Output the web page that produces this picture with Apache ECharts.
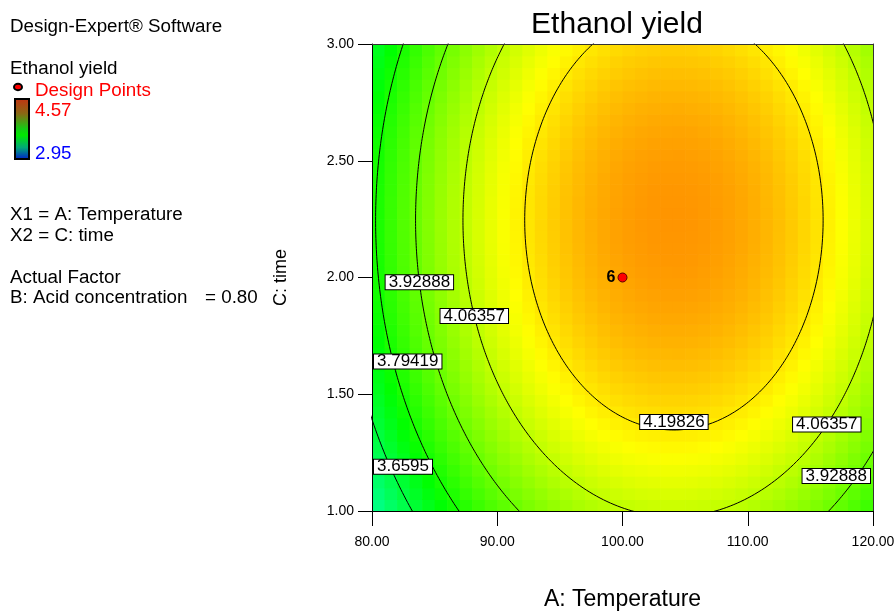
<!DOCTYPE html>
<html>
<head>
<meta charset="utf-8">
<script src="https://cdn.jsdelivr.net/npm/echarts@6/dist/echarts.min.js"></script>
<style>
  html, body { margin: 0; padding: 0; background: #fff; }
  #main { width: 895px; height: 612px; }
</style>
</head>
<body>
<div id="main"></div>
<script>
// Factor ranges (actual units)
const tempRange = [80, 120];        // A: Temperature
const timeRange = [1.0, 3.0];       // C: time
const acidConcentration = 0.80;     // B held constant

// Axis tick values
const tempTicks = [80, 90, 100, 110, 120];
const timeTicks = [1.0, 1.5, 2.0, 2.5, 3.0];

// Fitted quadratic model in coded units (A, C in [-1, 1])
const modelTerms = ['Intercept', 'A', 'C', 'A^2', 'C^2'];
const modelCoefs = [4.307, 0.156, 0.082, -0.380, -0.167];

// Contour levels drawn on the plot
const contourLevels = [3.6595, 3.79419, 3.92888, 4.06357, 4.19826];

// Response colour range (design point min / max)
const responseRange = [2.95, 4.57];

// Design points and replicate counts
const designTemps = [100];
const designTimes = [2.00];
const designReps = [6];

// ---------------------------------------------------------------
const FONT = "'Liberation Sans', Arial, Helvetica, sans-serif";
const GRID = { left: 372, top: 44, right: 22, bottom: 101 };
const PLOT_L = GRID.left, PLOT_R = 895 - GRID.right;
const LABEL_FONT_SIZE = 17;
const LABEL_PAD = [1, 3, 0, 3];

const toCodedA = T => (T - (tempRange[0] + tempRange[1]) / 2) / ((tempRange[1] - tempRange[0]) / 2);
const toCodedC = t => (t - (timeRange[0] + timeRange[1]) / 2) / ((timeRange[1] - timeRange[0]) / 2);
const fromCodedA = a => (tempRange[0] + tempRange[1]) / 2 + a * (tempRange[1] - tempRange[0]) / 2;
const fromCodedC = c => (timeRange[0] + timeRange[1]) / 2 + c * (timeRange[1] - timeRange[0]) / 2;

const [b0, bA, bC, bAA, bCC] = modelCoefs;
function predict(T, t) {
  const a = toCodedA(T), c = toCodedC(t);
  return b0 + bA * a + bC * c + bAA * a * a + bCC * c * c;
}
// Stationary point of the surface
const a0 = -bA / (2 * bAA), c0 = -bC / (2 * bCC);
const Ymax = b0 - bA * bA / (4 * bAA) - bC * bC / (4 * bCC);

// Response grid for the colour fill
const NX = 40, NT = 40;
const dT = (tempRange[1] - tempRange[0]) / NX;
const dt = (timeRange[1] - timeRange[0]) / NT;
const cells = [];
for (let i = 0; i < NX; i++) {
  for (let j = 0; j < NT; j++) {
    const T = tempRange[0] + (i + 0.5) * dT;
    const t = timeRange[0] + (j + 0.5) * dt;
    cells.push([T, t, predict(T, t)]);
  }
}

// Contour curves (level sets of the quadratic are ellipses)
function contourPath(level) {
  const r2 = Ymax - level;
  const rx = Math.sqrt(r2 / -bAA), ry = Math.sqrt(r2 / -bCC);
  const pts = [];
  for (let k = 0; k <= 720; k++) {
    const th = k / 720 * 2 * Math.PI;
    pts.push([fromCodedA(a0 + rx * Math.cos(th)), fromCodedC(c0 + ry * Math.sin(th))]);
  }
  return pts;
}

// Where each contour carries its value label
const labelSpots = [
  { level: 3.92888, side: 'left', time: 1.98 },
  { level: 4.06357, side: 'left', time: 1.835 },
  { level: 3.79419, side: 'left', time: 1.64 },
  { level: 3.6595,  side: 'left', time: 1.19 },
  { level: 4.19826, side: 'bottom' },
  { level: 4.06357, side: 'right', time: 1.37 },
  { level: 3.92888, side: 'right', time: 1.15 }
];
function spotOnContour(s) {
  const r2 = Ymax - s.level;
  if (s.side === 'bottom') {
    return [fromCodedA(a0), fromCodedC(c0 - Math.sqrt(r2 / -bCC))];
  }
  const c = toCodedC(s.time);
  const rem = Math.max(0, r2 + bCC * (c - c0) * (c - c0));
  const da = Math.sqrt(rem / -bAA);
  return [fromCodedA(s.side === 'left' ? a0 - da : a0 + da), s.time];
}
function buildLabelData(offsets) {
  return labelSpots.map((s, i) => ({
    value: spotOnContour(s),
    name: String(s.level),
    label: { offset: offsets[i] }
  }));
}
const baseOffsets = labelSpots.map(s => [0, s.side === 'bottom' ? -8 : 0]);

const series = [];
series.push({
  type: 'custom',
  name: 'response',
  data: cells,
  clip: true,
  silent: true,
  z: 1,
  renderItem: function (params, api) {
    const T = api.value(0), t = api.value(1);
    const p1 = api.coord([T - dT / 2, t + dt / 2]);
    const p2 = api.coord([T + dT / 2, t - dt / 2]);
    return {
      type: 'rect',
      shape: { x: p1[0], y: p1[1], width: p2[0] - p1[0] + 0.7, height: p2[1] - p1[1] + 0.7 },
      style: { fill: api.visual('color') }
    };
  }
});
contourLevels.forEach(level => {
  series.push({
    type: 'line',
    data: contourPath(level),
    showSymbol: false,
    symbol: 'none',
    silent: true,
    clip: true,
    z: 3,
    lineStyle: { color: '#000', width: 1 }
  });
});
series.push({
  id: 'contourLabels',
  type: 'scatter',
  data: buildLabelData(baseOffsets),
  symbolSize: 0,
  silent: true,
  z: 5,
  itemStyle: { opacity: 1 },
  label: {
    show: true,
    position: 'inside',
    formatter: p => p.name,
    fontFamily: FONT,
    fontSize: LABEL_FONT_SIZE,
    color: '#000',
    backgroundColor: '#fff',
    borderColor: '#000',
    borderWidth: 1,
    padding: LABEL_PAD,
    lineHeight: 13
  }
});
series.push({
  type: 'scatter',
  data: designTemps.map((T, i) => ({ value: [T, designTimes[i]], name: String(designReps[i]) })),
  symbol: 'circle',
  symbolSize: 9,
  silent: true,
  z: 6,
  itemStyle: { color: '#ff0000', borderColor: '#5a0000', borderWidth: 1, opacity: 1 },
  label: {
    show: true,
    position: 'left',
    distance: 2,
    formatter: p => p.name,
    fontFamily: FONT,
    fontSize: 16,
    fontWeight: 'bold',
    color: '#000'
  }
});

const axisCommon = {
  axisLine: { show: true, lineStyle: { color: '#000', width: 1 } },
  splitLine: { show: false },
  z: 10
};

const sideTexts = [
  { text: 'Design-Expert® Software', x: 10, y: 27, color: '#000' },
  { text: 'Ethanol yield', x: 10, y: 69, color: '#000' },
  { text: 'Design Points', x: 35, y: 91, color: '#ff0000' },
  { text: responseRange[1].toFixed(2), x: 35, y: 111, color: '#ff0000' },
  { text: responseRange[0].toFixed(2), x: 35, y: 154, color: '#0000ff' },
  { text: 'X1 = A: Temperature', x: 10, y: 215, color: '#000' },
  { text: 'X2 = C: time', x: 10, y: 236, color: '#000' },
  { text: 'Actual Factor', x: 10, y: 278, color: '#000' },
  { text: 'B: Acid concentration', x: 10, y: 298, color: '#000' },
  { text: '= ' + acidConcentration.toFixed(2), x: 205, y: 298, color: '#000' }
];

const graphics = sideTexts.map(s => ({
  type: 'text', x: s.x, y: s.y,
  style: { text: s.text, fill: s.color, font: '18.8px ' + FONT, textAlign: 'left', textVerticalAlign: 'middle' }
}));
graphics.push({
  type: 'text', x: 617, y: 25,
  style: { text: 'Ethanol yield', fill: '#000', font: '30px ' + FONT, textAlign: 'center', textVerticalAlign: 'middle' }
});
graphics.push({
  type: 'ellipse', shape: { cx: 18, cy: 87, rx: 4, ry: 3.2 },
  style: { fill: '#ff0000', stroke: '#000', lineWidth: 2 }
});
graphics.push({
  type: 'rect', shape: { x: 15, y: 99, width: 14, height: 60 },
  style: {
    stroke: '#000', lineWidth: 2,
    fill: new echarts.graphic.LinearGradient(0, 0, 0, 1, [
      { offset: 0, color: '#c43212' },
      { offset: 0.25, color: '#8a6814' },
      { offset: 0.5, color: '#14cc14' },
      { offset: 0.6, color: '#00e800' },
      { offset: 0.8, color: '#00a878' },
      { offset: 1, color: '#0018d0' }
    ])
  }
});

const option = {
  backgroundColor: '#fff',
  animation: false,
  grid: Object.assign({ show: false, containLabel: false, outerBoundsMode: 'none' }, GRID),
  xAxis: [
    Object.assign({}, axisCommon, {
      type: 'value', min: tempTicks[0], max: tempTicks[tempTicks.length - 1], interval: 10,
      axisTick: { show: true, length: 15, lineStyle: { color: '#000' } },
      axisLabel: { formatter: v => v.toFixed(2), fontFamily: FONT, fontSize: 14, color: '#000', margin: 24 },
      name: 'A: Temperature', nameLocation: 'middle', nameGap: 77,
      nameTextStyle: { fontFamily: FONT, fontSize: 23, color: '#000' }
    }),
    {
      type: 'value', position: 'top', min: tempTicks[0], max: tempTicks[tempTicks.length - 1],
      axisLine: { show: true, lineStyle: { color: '#333', width: 1 } },
      axisTick: { show: false }, axisLabel: { show: false }, splitLine: { show: false }, z: 10
    }
  ],
  yAxis: [
    Object.assign({}, axisCommon, {
      type: 'value', min: timeTicks[0], max: timeTicks[timeTicks.length - 1], interval: 0.5,
      axisTick: { show: true, length: 14, lineStyle: { color: '#000' } },
      axisLabel: { formatter: v => v.toFixed(2), fontFamily: FONT, fontSize: 14, color: '#000', margin: 18 },
      name: 'C: time', nameLocation: 'middle', nameGap: 82, nameRotate: 90,
      nameTextStyle: { fontFamily: FONT, fontSize: 18, color: '#000' }
    }),
    {
      type: 'value', position: 'right', min: timeTicks[0], max: timeTicks[timeTicks.length - 1],
      axisLine: { show: true, lineStyle: { color: '#333', width: 1 } },
      axisTick: { show: false }, axisLabel: { show: false }, splitLine: { show: false }, z: 10
    }
  ],
  visualMap: {
    type: 'continuous',
    show: false,
    min: responseRange[0],
    max: responseRange[1],
    dimension: 2,
    seriesIndex: 0,
    inRange: { color: ['#0000ff', '#00ffff', '#00ff00', '#ffff00', '#ff0000'] }
  },
  graphic: graphics,
  series: series
};

const chart = echarts.init(document.getElementById('main'));
chart.setOption(option);

// Keep contour value boxes inside the plot frame
const measure = document.createElement('canvas').getContext('2d');
measure.font = LABEL_FONT_SIZE + 'px ' + FONT;
const keptOffsets = labelSpots.map((s, i) => {
  const p = chart.convertToPixel({ xAxisIndex: 0, yAxisIndex: 0 }, spotOnContour(s));
  const w = measure.measureText(String(s.level)).width + LABEL_PAD[1] + LABEL_PAD[3] + 2;
  const left = p[0] - w / 2;
  let dx = 0;
  if (left < PLOT_L + 1) dx = PLOT_L + 1 - left;
  if (left + w > PLOT_R - 2) dx = PLOT_R - 2 - (left + w);
  return [dx, baseOffsets[i][1]];
});
chart.setOption({ series: [{ id: 'contourLabels', data: buildLabelData(keptOffsets) }] });
</script>
</body>
</html>
